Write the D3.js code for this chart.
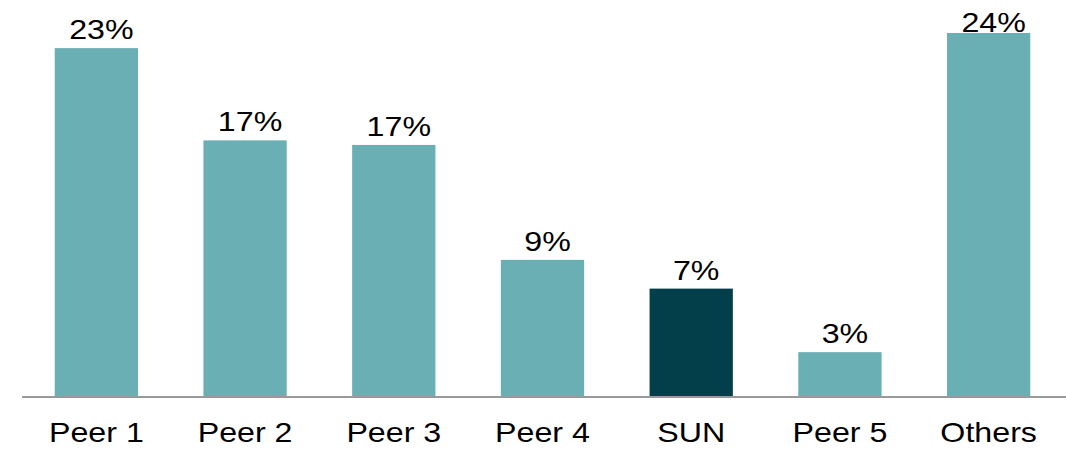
<!DOCTYPE html>
<html>
<head>
<meta charset="utf-8">
<script src="https://cdn.jsdelivr.net/npm/d3@7"></script>
<style>
  html, body { margin: 0; padding: 0; background: #fff; }
  svg { display: block; }
  text { font-family: "Liberation Sans", Arial, sans-serif; fill: #000; }
</style>
</head>
<body>
<svg id="chart" width="1066" height="452"></svg>
<script>
const categories = ["Peer 1", "Peer 2", "Peer 3", "Peer 4", "SUN", "Peer 5", "Others"];
const values = [23.0, 16.9, 16.6, 9.0, 7.1, 2.9, 24.0];
const valueLabels = ["23%", "17%", "17%", "9%", "7%", "3%", "24%"];
const highlight = ["SUN"];

const svg = d3.select("#chart");
const baseY = 396;

const x = d3.scaleBand()
  .domain(categories)
  .range([22, 1063])
  .paddingInner(0.44)
  .paddingOuter(0.22);

const y = d3.scaleLinear()
  .domain([0, 24])
  .range([baseY, 33]);

const fontSize = 28.5;
const stretch = 1.13;

svg.append("g").selectAll("rect")
  .data(categories)
  .join("rect")
  .attr("x", d => x(d))
  .attr("width", x.bandwidth())
  .attr("y", (d, i) => y(values[i]))
  .attr("height", (d, i) => baseY - y(values[i]))
  .attr("fill", d => highlight.includes(d) ? "#023f4a" : "#6aafb4");

// baseline axis
const axis = d3.axisBottom(x).tickSize(0).tickPadding(0);
const axisG = svg.append("g").attr("transform", `translate(0,${baseY + 1})`).call(axis);
axisG.select(".domain").remove();
axisG.selectAll(".tick text").remove();
svg.append("line")
  .attr("x1", 22).attr("x2", 1066)
  .attr("y1", baseY + 1).attr("y2", baseY + 1)
  .attr("stroke", "#999999").attr("stroke-width", 2);

// category labels
svg.append("g").selectAll("text")
  .data(categories)
  .join("text")
  .attr("transform", d => `translate(${x(d) + x.bandwidth() / 2},442) scale(${stretch},1)`)
  .attr("text-anchor", "middle")
  .attr("font-size", fontSize)
  .text(d => d);

// value labels
svg.append("g").selectAll("text")
  .data(categories)
  .join("text")
  .attr("transform", (d, i) => `translate(${x(d) + x.bandwidth() / 2 + 5},${Math.max(32, y(values[i]) - 9)}) scale(${stretch},1)`)
  .attr("text-anchor", "middle")
  .attr("font-size", fontSize)
  .text((d, i) => valueLabels[i]);
</script>
</body>
</html>
